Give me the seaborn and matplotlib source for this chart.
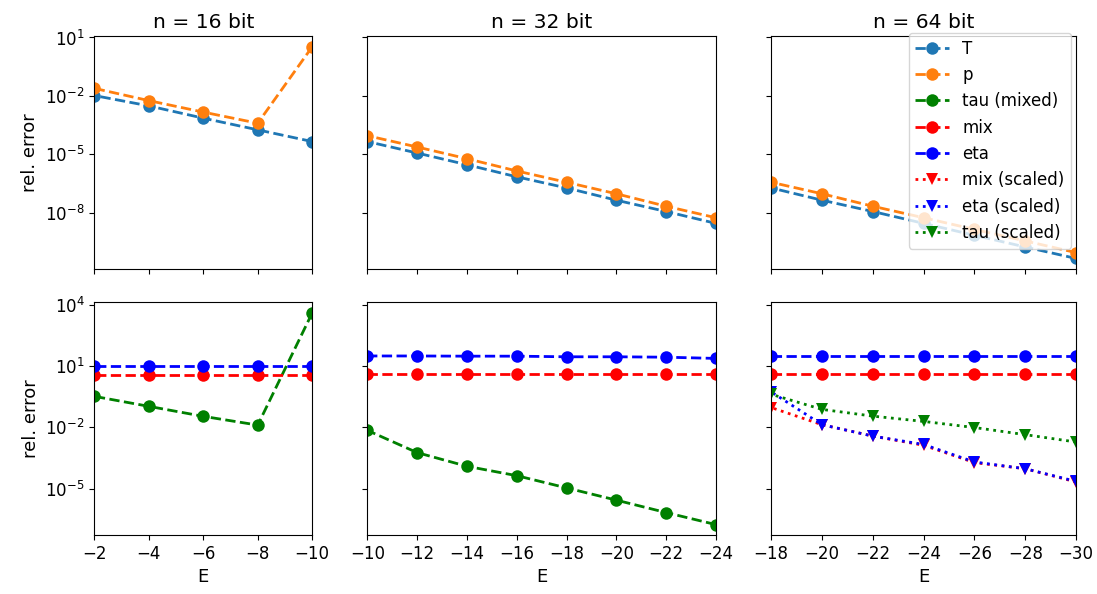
import numpy as np
import matplotlib
matplotlib.use("Agg")
import matplotlib.pyplot as plt
import seaborn as sns
from matplotlib.ticker import NullLocator

plt.rcParams["font.size"] = 12

# exponent values per word size
E16 = [-2, -4, -6, -8, -10]
E32 = [-10, -12, -14, -16, -18, -20, -22, -24]
E64 = [-18, -20, -22, -24, -26, -28, -30]

# log10 of relative errors
T16 = [-1.98, -2.51, -3.14, -3.74, -4.34]
p16 = [-1.61, -2.24, -2.83, -3.40, 0.52]
T32 = [-4.34, -4.93, -5.53, -6.15, -6.72, -7.35, -7.93, -8.54]
p32 = [-4.04, -4.62, -5.22, -5.85, -6.43, -7.02, -7.66, -8.25]
T64 = [-6.72, -7.35, -7.93, -8.54, -9.15, -9.75, -10.34]
p64 = [-6.43, -7.02, -7.66, -8.25, -8.85, -9.44, -10.04]

tau16 = [-0.48, -0.97, -1.46, -1.89, 3.61]
mix16 = [0.59, 0.59, 0.59, 0.59, 0.59]
eta16 = [1.0, 1.0, 1.0, 1.0, 1.0]
tau32 = [-2.15, -3.24, -3.91, -4.37, -4.97, -5.57, -6.18, -6.77]
mix32 = [0.61, 0.61, 0.61, 0.61, 0.61, 0.61, 0.61, 0.61]
eta32 = [1.50, 1.50, 1.49, 1.49, 1.46, 1.46, 1.44, 1.38]
mix64 = [0.61, 0.61, 0.61, 0.61, 0.61, 0.61, 0.61]
eta64 = [1.50, 1.50, 1.50, 1.50, 1.50, 1.50, 1.50]
mix64s = [-1.03, -1.87, -2.43, -2.88, -3.73, -4.03, -4.68]
eta64s = [-0.26, -1.87, -2.43, -2.84, -3.70, -4.03, -4.65]
tau64s = [-0.38, -1.12, -1.45, -1.71, -2.01, -2.36, -2.72]

bits = [16, 32, 64]
Es = [E16, E32, E64]
top = [[("T", T16), ("p", p16)], [("T", T32), ("p", p32)], [("T", T64), ("p", p64)]]
bottom = [
    [("tau (mixed)", tau16), ("mix", mix16), ("eta", eta16)],
    [("tau (mixed)", tau32), ("mix", mix32), ("eta", eta32)],
    [("mix", mix64), ("eta", eta64), ("mix (scaled)", mix64s),
     ("eta (scaled)", eta64s), ("tau (scaled)", tau64s)],
]

styles = {
    "T": ("#1f77b4", "--", "o"),
    "p": ("#ff7f0e", "--", "o"),
    "tau (mixed)": ("green", "--", "o"),
    "mix": ("red", "--", "o"),
    "eta": ("blue", "--", "o"),
    "mix (scaled)": ("red", ":", "v"),
    "eta (scaled)": ("blue", ":", "v"),
    "tau (scaled)": ("green", ":", "v"),
}
order = list(styles.keys())

fig, axes = plt.subplots(2, 3, figsize=(10.97, 5.94), dpi=100, sharex="col", sharey="row",
                         gridspec_kw={"width_ratios": [5, 8, 7]})
fig.subplots_adjust(left=0.086, right=0.981, top=0.939, bottom=0.099, wspace=0.19, hspace=0.143)

handles = {}
for j in range(3):
    for row, series in enumerate([top[j], bottom[j]]):
        ax = axes[row, j]
        for name, vals in series:
            c, ls, m = styles[name]
            sns.lineplot(x=Es[j], y=10 ** np.array(vals), ax=ax, color=c, linestyle=ls,
                         marker=m, markersize=9, linewidth=2, markeredgecolor=c,
                         markeredgewidth=0, label=name, legend=False)
        ax.set_yscale("log")
        for line in ax.get_lines():
            handles.setdefault(line.get_label(), line)
    axes[0, j].set_title(f"n = {bits[j]} bit", fontsize=14.6)
    axes[1, j].set_xlabel("E", fontsize=13)
    axes[1, j].set_xlim(Es[j][0], Es[j][-1])
    axes[1, j].set_xticks(Es[j])

axes[0, 0].set_yticks([1e1, 1e-2, 1e-5, 1e-8])
axes[1, 0].set_yticks([1e4, 1e1, 1e-2, 1e-5])
for ax in axes.flat:
    ax.yaxis.set_minor_locator(NullLocator())
axes[0, 0].set_ylabel("rel. error", fontsize=13)
axes[1, 0].set_ylabel("rel. error", fontsize=13)

axes[0, 2].legend([handles[k] for k in order], order, loc="upper right",
                  bbox_to_anchor=(1071 / 1097, 1 - 33 / 594), bbox_transform=fig.transFigure,
                  borderaxespad=0)

fig.savefig("out.png", dpi=100)
